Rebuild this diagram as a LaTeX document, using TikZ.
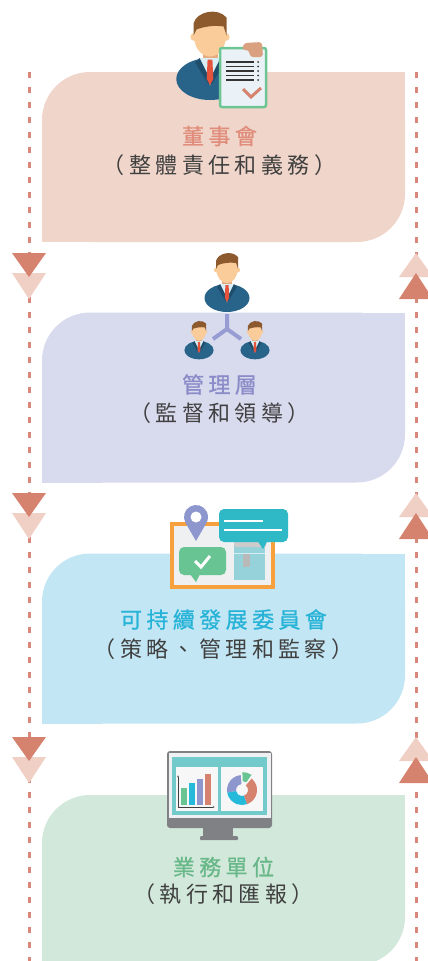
\documentclass[tikz,border=0pt]{standalone}
\usepackage{fontspec}
\newfontfamily\cjk[LetterSpace=20]{Noto Sans CJK TC}
\newfontfamily\cjkhead[LetterSpace=20,FakeBold=0.8]{Noto Sans CJK TC}
\usetikzlibrary{positioning,arrows.meta}

% panel and text colours
\definecolor{boardfill}{HTML}{F0D5CA}
\definecolor{mgmtfill}{HTML}{D8DAEE}
\definecolor{esgfill}{HTML}{C3E6F4}
\definecolor{unitfill}{HTML}{D2E8DA}
\definecolor{boardtxt}{HTML}{E08D7B}
\definecolor{mgmttxt}{HTML}{8B8BC8}
\definecolor{esgtxt}{HTML}{27B3D7}
\definecolor{unittxt}{HTML}{69B889}
\definecolor{subtxt}{HTML}{404040}
% flow lines
\definecolor{flowred}{HTML}{D9877A}
\definecolor{tridark}{HTML}{D5826F}
\definecolor{trilight}{HTML}{F0CFC4}
% icons
\definecolor{suit}{HTML}{28648A}
\definecolor{suitdark}{HTML}{1E4E6C}
\definecolor{skin}{HTML}{F9CC9A}
\definecolor{skindark}{HTML}{E6AC80}
\definecolor{hair}{HTML}{8C5A2D}
\definecolor{shirt}{HTML}{D9EEF5}
\definecolor{tie}{HTML}{E5533D}
\definecolor{docgreen}{HTML}{6CC592}
\definecolor{docfill}{HTML}{EAF2F8}
\definecolor{hand}{HTML}{D9A17F}
\definecolor{linkpurple}{HTML}{979DD2}
\definecolor{frameorange}{HTML}{F7A03E}
\definecolor{panelgray}{HTML}{EEF0F2}
\definecolor{pinpurple}{HTML}{8E97CD}
\definecolor{bubblegreen}{HTML}{69C493}
\definecolor{bubbleteal}{HTML}{2FB8C5}
\definecolor{boardteal}{HTML}{95D2D9}
\definecolor{monitorgray}{HTML}{808184}
\definecolor{screenteal}{HTML}{72CACB}
\definecolor{barcyan}{HTML}{25B9DA}

% businessman bust, origin at the middle of the face
\newcommand{\bizman}[3]{%
  \begin{scope}[shift={(#1,#2)},scale=#3]
    \fill[suit] (0,-28) ellipse (22.5 and 14);
    \fill[skindark] (-5,-8) rectangle (5,-16);
    \fill[shirt] (-7,-14) -- (7,-14) -- (0,-33) -- cycle;
    \fill[suitdark] (-7,-14) -- (-2,-24) -- (0,-33) -- (-10,-17) -- cycle;
    \fill[suitdark] (7,-14) -- (2,-24) -- (0,-33) -- (10,-17) -- cycle;
    \fill[tie] (-1.6,-15) -- (1.6,-15) -- (2.2,-28) -- (0,-32) -- (-2.2,-28) -- cycle;
    \fill[skin] (-10.5,0) circle (2.6) (10.5,0) circle (2.6);
    \fill[skin] (0,0) ellipse (10.5 and 13);
    \fill[hair] (-11,1) -- (-11,9) .. controls (-9,17) and (5,20) .. (11,13) -- (11,1) -- (9,7) .. controls (3,8) and (-4,7) .. (-9,5) -- cycle;
  \end{scope}}

\begin{document}
\begin{tikzpicture}[x=1pt,y=1pt]
  \tikzstyle{panel}=[rectangle,rounded corners=48pt,minimum width=363pt,minimum height=170pt,inner sep=0pt,outer sep=0pt]
  \tikzstyle{title}=[font=\cjkhead\fontsize{22}{25}\selectfont,inner sep=0pt]
  \tikzstyle{subtitle}=[font=\cjk\fontsize{22}{25}\selectfont,text=subtxt,inner sep=0pt]
  \tikzstyle{flow}=[draw=flowred,line width=3pt,dash pattern=on 6pt off 9pt]
  \useasboundingbox (0,0) rectangle (428,-961);
  \clip (0,0) rectangle (428,-961);

  % four panels, square at top right and bottom left
  \node[panel,fill=boardfill] (board) at (223.5,-157) {};
  \node[panel,fill=mgmtfill] (mgmt) at (223.5,-397.5) {};
  \node[panel,fill=esgfill] (esg) at (223.5,-638.5) {};
  \node[panel,fill=unitfill] (unit) at (223.5,-880) {};
  \foreach \n/\c in {board/boardfill,mgmt/mgmtfill,esg/esgfill,unit/unitfill}{
    \fill[\c] (\n.north east) rectangle ++(-60,-60);
    \fill[\c] (\n.south west) rectangle ++(60,60);
  }

  \node[title,text=boardtxt] (boardtitle) at ([xshift=-4pt,yshift=-64pt]board.north) {董事會};
  \node[subtitle] (boardsub) at ([xshift=-4pt,yshift=-93pt]board.north) {（整體責任和義務）};
  \node[title,text=mgmttxt] (mgmttitle) at ([xshift=-4pt,yshift=-72pt]mgmt.north) {管理層};
  \node[subtitle] (mgmtsub) at ([xshift=-4pt,yshift=-101pt]mgmt.north) {（監督和領導）};
  \node[title,text=esgtxt] (esgtitle) at ([xshift=0pt,yshift=-66pt]esg.north) {可持續發展委員會};
  \node[subtitle] (esgsub) at ([xshift=0pt,yshift=-96pt]esg.north) {（策略、管理和監察）};
  \node[title,text=unittxt] (unittitle) at ([xshift=0pt,yshift=-72pt]unit.north) {業務單位};
  \node[subtitle] (unitsub) at ([xshift=0pt,yshift=-99pt]unit.north) {（執行和匯報）};

  % dashed flow lines with double arrowheads
  \coordinate (ltop) at (29,-72);
  \coordinate (lend) at (29,-970);
  \coordinate (rtop) at (416,-72);
  \coordinate (rend) at (416,-970);
  \draw[flow] (ltop) -- (lend);
  \draw[flow] (rtop) -- (rend);
  \foreach \y in {253,493,737}{
    \fill[trilight] (12,-\y-20) -- (46,-\y-20) -- (29,-\y-46) -- cycle;
    \fill[tridark] (12,-\y) -- (46,-\y) -- (29,-\y-24) -- cycle;
    \fill[trilight] (399,-\y-24) -- (433,-\y-24) -- (416,-\y) -- cycle;
    \fill[tridark] (399,-\y-46) -- (433,-\y-46) -- (416,-\y-20) -- cycle;
  }

  % board icon: man holding a checked list
  \bizman{210}{-37}{1.5}
  \draw[docgreen,line width=2.5pt,fill=docfill,rounded corners=2pt] (220,-48) rectangle (266,-107);
  \foreach \ly in {62,66.5,71,75.5,80}{
    \draw[black!80,line width=1.6pt] (226,-\ly) -- (254,-\ly);
    \fill[black!80] (258,-\ly) circle (1);
  }
  \draw[tridark,line width=3pt] (243,-89) -- (251,-97) -- (261,-88);
  \fill[hand,rounded corners=3pt] (242,-50) -- (244,-43) -- (262,-42) -- (263,-57) -- (250,-57) -- (249,-50) -- cycle;

  % management icon: one leader, two staff
  \bizman{227}{-270}{1}
  \draw[linkpurple,line width=4pt] (227,-314) -- (227,-329) -- (213,-339) (227,-329) -- (241,-339);
  \bizman{199}{-332}{0.65}
  \bizman{255}{-332}{0.65}

  % committee icon: board with pin and speech bubbles
  \draw[frameorange,line width=4pt,fill=panelgray] (172,-524) rectangle (273,-587);
  \fill[boardteal] (234,-542) rectangle (265,-580);
  \fill[gray!40,rounded corners=2pt] (234,-541) rectangle (266,-547);
  \draw[white!60!boardteal,line width=0.8pt] (234,-553) -- (265,-553);
  \fill[gray!55] (243,-554) rectangle (250,-567);
  \fill[bubbleteal,rounded corners=5pt] (219,-509) rectangle (288,-542);
  \fill[bubbleteal] (257,-540) -- (268,-540) -- (263,-549) -- cycle;
  \draw[white,line width=2.5pt] (224,-521) -- (263,-521) (224,-530) -- (282,-530);
  \fill[pinpurple] (196,-541) -- (185.6,-523) arc (210:-30:12) -- cycle;
  \fill[white] (196,-517) circle (5.5);
  \fill[bubblegreen,rounded corners=5pt] (179,-547) rectangle (226,-575);
  \fill[bubblegreen] (190,-574) -- (200,-574) -- (196,-582) -- cycle;
  \draw[white,line width=3pt] (195,-561) -- (201,-567) -- (210,-556);

  % business unit icon: monitor with charts
  \fill[monitorgray,rounded corners=3pt] (167,-751) rectangle (272,-828);
  \fill[panelgray] (168.5,-752.5) rectangle (270.5,-818);
  \fill[screenteal] (172,-757) rectangle (267,-815);
  \fill[white!94!gray] (176,-767) rectangle (218,-811);
  \fill[white!94!gray] (221,-767) rectangle (263,-811);
  \fill[monitorgray] (203,-827) rectangle (233,-837);
  \fill[monitorgray,rounded corners=1pt] (200,-836) rectangle (238,-840);
  \fill[bubblegreen] (181,-788) rectangle (187,-805);
  \fill[barcyan] (189,-783) rectangle (195,-805);
  \fill[pinpurple] (197,-779) rectangle (203,-805);
  \fill[tridark] (205,-774) rectangle (211,-805);
  \draw[black!75,line width=0.8pt,{Latex[length=2pt]}-{Latex[length=2pt]}] (178,-775) -- (178,-807) -- (215,-807);
  \begin{scope}[shift={(242,-790)}]
    \fill[pinpurple] (95:15) arc (95:190:15) -- (190:6) arc (190:95:6) -- cycle;
    \fill[barcyan] (190:15) arc (190:290:15) -- (290:6) arc (290:190:6) -- cycle;
    \fill[tridark] (290:15) arc (290:410:15) -- (50:6) arc (410:290:6) -- cycle;
    \begin{scope}[shift={(72:3)}]
      \fill[bubblegreen] (55:15) arc (55:92:15) -- (92:6) arc (92:55:6) -- cycle;
    \end{scope}
  \end{scope}
\end{tikzpicture}
\end{document}
